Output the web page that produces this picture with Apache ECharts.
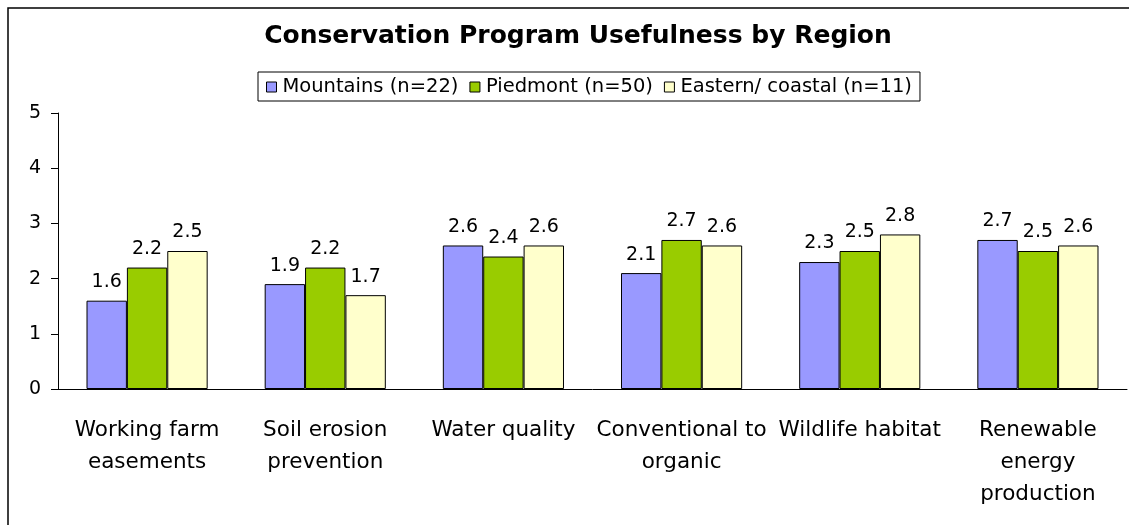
<!DOCTYPE html>
<html><head><meta charset="utf-8">
<script src="https://cdn.jsdelivr.net/npm/echarts@6/dist/echarts.min.js"></script>
<style>html,body{margin:0;padding:0;background:#fff}#c{width:1129px;height:525px}</style>
</head><body><div id="c"></div>
<script>
const title = 'Conservation Program Usefulness by Region';
const categories = ['Working farm\neasements','Soil erosion\nprevention','Water quality','Conventional to\norganic','Wildlife habitat','Renewable\nenergy\nproduction'];
const seriesNames = ['Mountains (n=22)','Piedmont (n=50)','Eastern/ coastal (n=11)'];
const mountains = [1.6,1.9,2.6,2.1,2.3,2.7];
const piedmont = [2.2,2.2,2.4,2.7,2.5,2.5];
const eastern = [2.5,1.7,2.6,2.6,2.8,2.6];
const yTicks = [0,1,2,3,4,5];
const colors = ['#9999FF','#99CC00','#FFFFCC'];
const font = '"DejaVu Sans", sans-serif';
const chart = echarts.init(document.getElementById('c'), null, {renderer:'canvas'});
const values = [mountains, piedmont, eastern];
chart.setOption({
  animation:false,
  textStyle:{fontFamily:font},
  title:{text:title,left:573,textAlign:'center',top:19,textStyle:{fontFamily:font,fontSize:25,fontWeight:'bold',color:'#000'}},
  graphic:[{type:'rect',shape:{x:8,y:8,width:1200,height:600},style:{fill:'none',stroke:'#000',lineWidth:1.5},silent:true}],
  legend:{left:258,top:72,itemWidth:10,itemHeight:10,itemGap:11,icon:'rect',borderColor:'#000',borderWidth:1,padding:[5,8,4,8],
    textStyle:{fontFamily:font,fontSize:19.5,color:'#000',padding:[0,0,0,1]},
    data:seriesNames.map((n,i)=>({name:n,itemStyle:{color:colors[i],borderColor:'#000',borderWidth:1}}))},
  grid:{left:58,right:2,top:113,bottom:136},
  xAxis:{type:'category',data:categories,axisLine:{lineStyle:{color:'#000',width:1}},axisTick:{length:6,lineStyle:{color:'#000'}},
    axisLabel:{color:'#000',fontSize:21.5,fontFamily:font,lineHeight:32,margin:25,interval:0}},
  yAxis:{type:'value',min:0,max:5,interval:1,axisLine:{show:true,lineStyle:{color:'#000'}},axisTick:{show:true,length:7,lineStyle:{color:'#000'}},
    splitLine:{show:false},axisLabel:{color:'#000',fontSize:19,fontFamily:font,margin:17,formatter:v=>yTicks.includes(v)?String(v):''}},
  series:seriesNames.map((n,i)=>({name:n,type:'bar',data:values[i],barGap:'0%',barCategoryGap:'32%',
    itemStyle:{color:colors[i],borderColor:'#000',borderWidth:1},
    label:{show:true,position:'top',distance:9,color:'#000',fontSize:19,fontFamily:font,formatter:p=>p.value.toFixed(1)}}))
});
</script></body></html>
